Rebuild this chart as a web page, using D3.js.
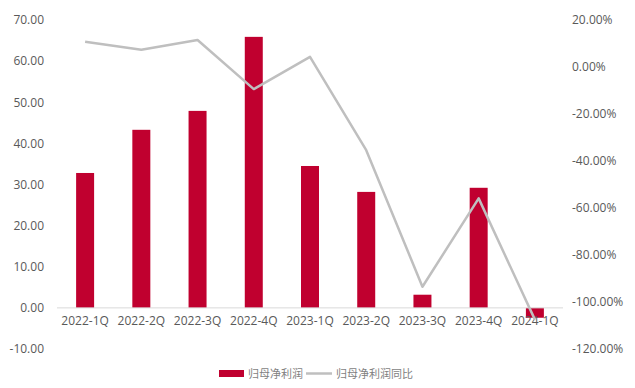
<!DOCTYPE html>
<html>
<head>
<meta charset="utf-8">
<script src="https://cdn.jsdelivr.net/npm/d3@7"></script>
<style>
  body { margin: 0; background: #fff; }
  text { font-family: "Open Sans", "Noto Sans CJK SC", sans-serif; }
</style>
</head>
<body>
<div id="chart"></div>
<script>
var quarters = ["2022-1Q", "2022-2Q", "2022-3Q", "2022-4Q", "2023-1Q", "2023-2Q", "2023-3Q", "2023-4Q", "2024-1Q"];
var netProfit = [32.8, 43.3, 47.9, 65.9, 34.5, 28.2, 3.2, 29.2, -2.4];
var profitYoY = [10.7, 7.3, 11.5, -9.4, 4.3, -35.4, -93.5, -55.9, -107.5];
var leftTicks = [-10, 0, 10, 20, 30, 40, 50, 60, 70];
var rightTicks = [-120, -100, -80, -60, -40, -20, 0, 20];

var width = 635, height = 388;
var plotLeft = 57, plotRight = 563, plotTop = 20, plotBottom = 349;

// plain hyphen for negatives, as in the original
var fmt = d3.formatLocale({ decimal: ".", thousands: ",", grouping: [3], currency: ["", ""], minus: "-" }).format(".2f");

var svg = d3.select("#chart").append("svg")
    .attr("width", width)
    .attr("height", height);

var x = d3.scaleBand().domain(quarters).range([plotLeft, plotRight]).paddingInner(0.68).paddingOuter(0.34);
var yL = d3.scaleLinear().domain([-10, 70]).range([plotBottom, plotTop]);
var yR = d3.scaleLinear().domain([-120, 20]).range([plotBottom, plotTop]);

// left axis
svg.append("g")
    .attr("transform", `translate(${plotLeft - 10},0)`)
    .call(d3.axisLeft(yL).tickValues(leftTicks).tickSize(0).tickFormat(fmt))
    .call(g => g.select(".domain").remove())
    .selectAll("text")
    .attr("fill", "#595959").attr("font-size", 12);

// right axis
svg.append("g")
    .attr("transform", `translate(${plotRight + 6},0)`)
    .call(d3.axisRight(yR).tickValues(rightTicks).tickSize(0).tickFormat(d => fmt(d) + "%"))
    .call(g => g.select(".domain").remove())
    .selectAll("text")
    .attr("fill", "#595959").attr("font-size", 12);

// bars
svg.append("g")
    .selectAll("rect")
    .data(netProfit)
    .join("rect")
    .attr("x", (d, i) => x(quarters[i]))
    .attr("width", x.bandwidth())
    .attr("y", d => yL(Math.max(0, d)))
    .attr("height", d => Math.abs(yL(d) - yL(0)))
    .attr("fill", "#C0002F");

// zero line
svg.append("line")
    .attr("x1", plotLeft).attr("x2", plotRight)
    .attr("y1", yL(0)).attr("y2", yL(0))
    .attr("stroke", "#d9d9d9").attr("stroke-width", 1);

// x labels
svg.append("g")
    .attr("transform", `translate(0,${yL(0)})`)
    .call(d3.axisBottom(x).tickSize(0).tickPadding(9))
    .call(g => g.select(".domain").remove())
    .selectAll("text")
    .attr("fill", "#595959").attr("font-size", 12);

// line
var line = d3.line()
    .x((d, i) => x(quarters[i]) + x.bandwidth() / 2)
    .y(d => yR(d));

svg.append("path")
    .datum(profitYoY)
    .attr("fill", "none")
    .attr("stroke", "#BFBFBF")
    .attr("stroke-width", 2.5)
    .attr("stroke-linejoin", "round")
    .attr("d", line);

// legend
var legend = svg.append("g").attr("transform", "translate(219,373)");
legend.append("rect").attr("x", 0).attr("y", -3).attr("width", 25).attr("height", 7).attr("fill", "#C0002F");
legend.append("text").attr("x", 29).attr("y", 4.5).text("归母净利润")
    .attr("fill", "#7f7f7f").attr("font-size", 11);
legend.append("line").attr("x1", 87).attr("x2", 113).attr("y1", 0.5).attr("y2", 0.5)
    .attr("stroke", "#BFBFBF").attr("stroke-width", 2.5);
legend.append("text").attr("x", 117).attr("y", 4.5).text("归母净利润同比")
    .attr("fill", "#7f7f7f").attr("font-size", 11);
</script>
</body>
</html>
